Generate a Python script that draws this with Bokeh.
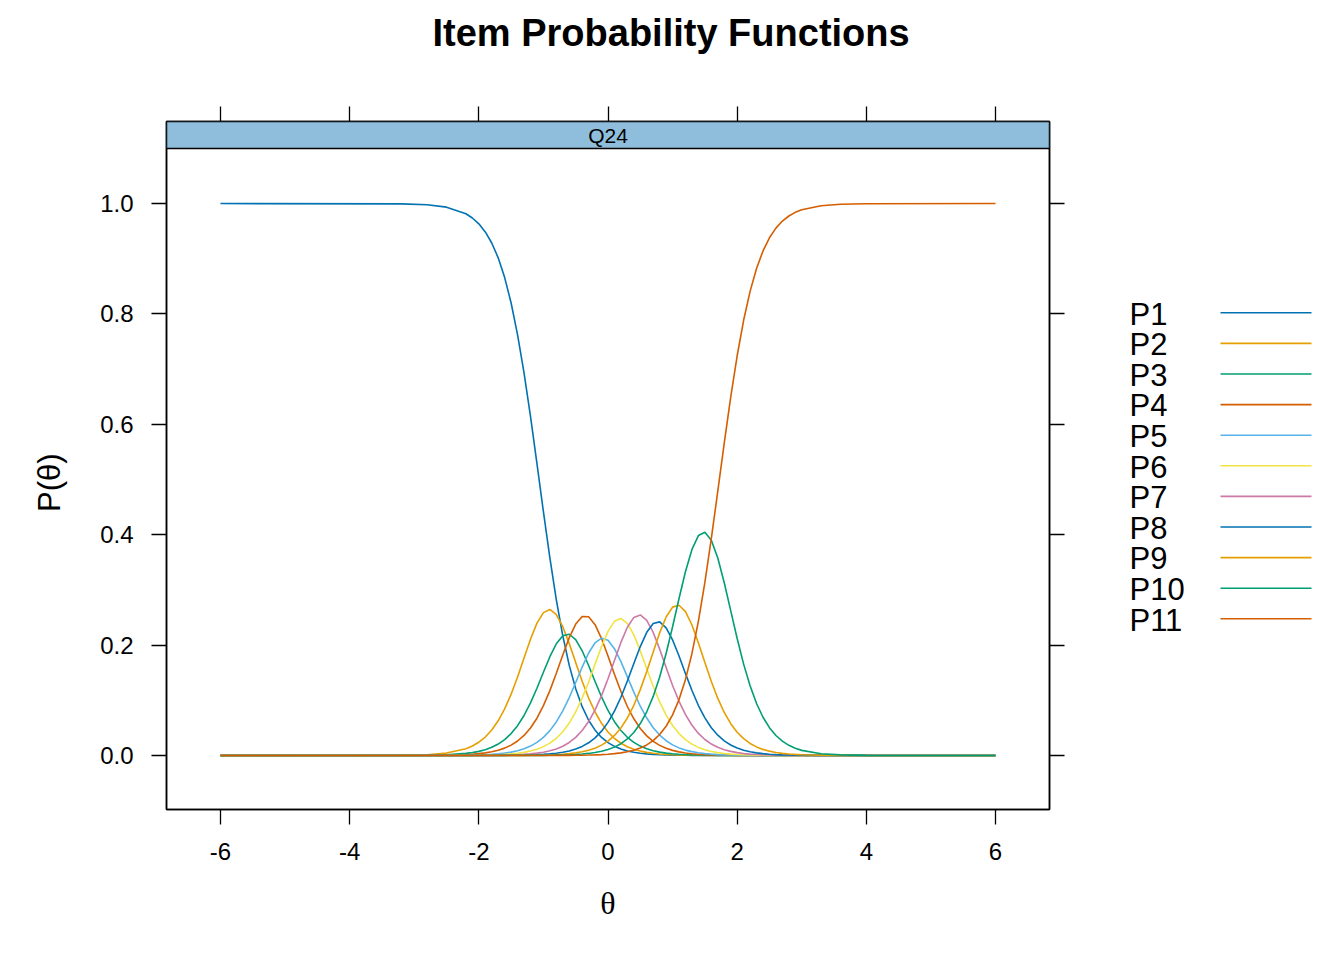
import math
from bokeh.plotting import figure
from bokeh.models import Range1d, LinearAxis, FixedTicker, BoxAnnotation, Label, Title
from bokeh.layouts import row
from bokeh.embed import file_html
from bokeh.resources import INLINE
from bokeh.core.properties import value

# ---------------- data ----------------
theta = [
    -6.0, -3.2, -2.8, -2.5,
    -2.2, -2.1, -2.0, -1.9, -1.8, -1.7, -1.6, -1.5, -1.4, -1.3,
    -1.2, -1.1, -1.0, -0.9, -0.8, -0.7, -0.6, -0.5, -0.4, -0.3,
    -0.2, -0.1, 0.0, 0.1, 0.2, 0.3, 0.4, 0.5, 0.6, 0.7,
    0.8, 0.9, 1.0, 1.1, 1.2, 1.3, 1.4, 1.5, 1.6, 1.7,
    1.8, 1.9, 2.0, 2.1, 2.2, 2.3, 2.4, 2.5, 2.6, 2.7,
    2.8, 2.9, 3.0,
    3.3, 3.6, 4.0, 6.0,
]

p1 = [
    1.0, 0.9994, 0.9977, 0.9934,
    0.9814, 0.9738, 0.9632, 0.9486, 0.9285, 0.9016, 0.8658, 0.8198, 0.7622, 0.6932,
    0.6143, 0.5288, 0.4417, 0.3579, 0.2821, 0.2169, 0.1633, 0.1209, 0.0884, 0.0639,
    0.0459, 0.0328, 0.0234, 0.0166, 0.0117, 0.0083, 0.0059, 0.0041, 0.0029, 0.0021,
    0.0015, 0.0010, 0.0007, 0.0005, 0.0004, 0.0003, 0.0002, 0.0001, 0.0001, 0.0001,
    0, 0, 0, 0, 0, 0, 0, 0, 0, 0,
    0, 0, 0,
    0, 0, 0, 0,
]
p2 = [
    0, 0.0004, 0.0015, 0.0044,
    0.0123, 0.0172, 0.0241, 0.0334, 0.0461, 0.0629, 0.0844, 0.1111, 0.1424, 0.1767,
    0.2106, 0.2398, 0.2589, 0.2646, 0.2554, 0.2334, 0.2027, 0.1683, 0.1345, 0.1041,
    0.0788, 0.0584, 0.0427, 0.0309, 0.0222, 0.0159, 0.0113, 0.0080, 0.0057, 0.0040,
    0.0028, 0.0020, 0.0014, 0.0010, 0.0007, 0.0005, 0.0004, 0.0002, 0.0002, 0.0001,
    0.0001, 0.0001, 0, 0, 0, 0, 0, 0, 0, 0,
    0, 0, 0,
    0, 0, 0, 0,
]
p3 = [
    0, 0.0001, 0.0005, 0.0013,
    0.0038, 0.0053, 0.0075, 0.0106, 0.0149, 0.0207, 0.0288, 0.0397, 0.0541, 0.0725,
    0.0954, 0.1219, 0.1508, 0.1790, 0.2025, 0.2171, 0.2197, 0.2100, 0.1897, 0.1630,
    0.1340, 0.1061, 0.0816, 0.0613, 0.0453, 0.0330, 0.0239, 0.0171, 0.0122, 0.0087,
    0.0061, 0.0043, 0.0031, 0.0022, 0.0015, 0.0011, 0.0008, 0.0005, 0.0004, 0.0003,
    0.0002, 0.0001, 0.0001, 0.0001, 0.0001, 0, 0, 0, 0, 0,
    0, 0, 0,
    0, 0, 0, 0,
]
p4 = [
    0, 0.0001, 0.0002, 0.0006,
    0.0017, 0.0024, 0.0034, 0.0048, 0.0067, 0.0095, 0.0134, 0.0188, 0.0263, 0.0363,
    0.0499, 0.0676, 0.0903, 0.1176, 0.1491, 0.1822, 0.2136, 0.2382, 0.2517, 0.2513,
    0.2370, 0.2119, 0.1803, 0.1472, 0.1159, 0.0888, 0.0665, 0.0490, 0.0356, 0.0257,
    0.0184, 0.0131, 0.0093, 0.0066, 0.0047, 0.0033, 0.0023, 0.0017, 0.0012, 0.0008,
    0.0006, 0.0004, 0.0003, 0.0002, 0.0001, 0.0001, 0.0001, 0, 0, 0,
    0, 0, 0,
    0, 0, 0, 0,
]
p5 = [
    0, 0, 0.0001, 0.0002,
    0.0005, 0.0008, 0.0011, 0.0015, 0.0022, 0.0031, 0.0043, 0.0061, 0.0086, 0.0122,
    0.0171, 0.0238, 0.0329, 0.0451, 0.0609, 0.0810, 0.1050, 0.1322, 0.1601, 0.1857,
    0.2042, 0.2126, 0.2087, 0.1935, 0.1701, 0.1425, 0.1149, 0.0893, 0.0679, 0.0504,
    0.0370, 0.0268, 0.0193, 0.0138, 0.0098, 0.0070, 0.0049, 0.0035, 0.0025, 0.0017,
    0.0012, 0.0009, 0.0006, 0.0004, 0.0003, 0.0002, 0.0002, 0.0001, 0.0001, 0,
    0, 0, 0,
    0, 0, 0, 0,
]
p6 = [
    0, 0, 0, 0.0001,
    0.0003, 0.0004, 0.0005, 0.0007, 0.0010, 0.0014, 0.0020, 0.0029, 0.0041, 0.0057,
    0.0081, 0.0114, 0.0161, 0.0225, 0.0313, 0.0430, 0.0588, 0.0789, 0.1040, 0.1333,
    0.1656, 0.1976, 0.2249, 0.2431, 0.2482, 0.2395, 0.2185, 0.1896, 0.1571, 0.1254,
    0.0970, 0.0732, 0.0543, 0.0397, 0.0287, 0.0206, 0.0147, 0.0105, 0.0074, 0.0053,
    0.0037, 0.0026, 0.0019, 0.0013, 0.0009, 0.0007, 0.0005, 0.0003, 0.0002, 0.0002,
    0.0001, 0.0001, 0.0001,
    0, 0, 0, 0,
]
p7 = [
    0, 0, 0, 0,
    0.0001, 0.0001, 0.0002, 0.0003, 0.0004, 0.0005, 0.0008, 0.0011, 0.0015, 0.0021,
    0.0030, 0.0043, 0.0060, 0.0085, 0.0120, 0.0169, 0.0236, 0.0328, 0.0452, 0.0615,
    0.0827, 0.1085, 0.1391, 0.1721, 0.2049, 0.2323, 0.2502, 0.2546, 0.2448, 0.2229,
    0.1927, 0.1595, 0.1269, 0.0982, 0.0740, 0.0549, 0.0400, 0.0290, 0.0208, 0.0149,
    0.0106, 0.0075, 0.0053, 0.0037, 0.0026, 0.0019, 0.0013, 0.0009, 0.0007, 0.0005,
    0.0003, 0.0002, 0.0002,
    0.0001, 0, 0, 0,
]
p8 = [
    0, 0, 0, 0,
    0, 0.0001, 0.0001, 0.0001, 0.0001, 0.0002, 0.0003, 0.0004, 0.0005, 0.0007,
    0.0010, 0.0015, 0.0021, 0.0029, 0.0042, 0.0059, 0.0083, 0.0118, 0.0165, 0.0231,
    0.0320, 0.0441, 0.0600, 0.0804, 0.1055, 0.1349, 0.1666, 0.1974, 0.2232, 0.2390,
    0.2421, 0.2314, 0.2094, 0.1802, 0.1483, 0.1177, 0.0906, 0.0682, 0.0504, 0.0368,
    0.0266, 0.0191, 0.0136, 0.0097, 0.0069, 0.0048, 0.0034, 0.0024, 0.0017, 0.0012,
    0.0009, 0.0006, 0.0004,
    0.0002, 0.0001, 0, 0,
]
p9 = [
    0, 0, 0, 0,
    0, 0, 0, 0, 0.0001, 0.0001, 0.0001, 0.0002, 0.0002, 0.0003,
    0.0004, 0.0006, 0.0008, 0.0012, 0.0017, 0.0024, 0.0034, 0.0048, 0.0067, 0.0095,
    0.0133, 0.0188, 0.0262, 0.0364, 0.0500, 0.0680, 0.0910, 0.1194, 0.1522, 0.1877,
    0.2222, 0.2509, 0.2688, 0.2722, 0.2608, 0.2364, 0.2040, 0.1684, 0.1340, 0.1034,
    0.0780, 0.0577, 0.0421, 0.0305, 0.0219, 0.0156, 0.0111, 0.0079, 0.0056, 0.0039,
    0.0028, 0.0020, 0.0014,
    0.0005, 0.0002, 0, 0,
]
p10 = [
    0, 0, 0, 0,
    0, 0, 0, 0, 0, 0, 0, 0.0001, 0.0001, 0.0001,
    0.0002, 0.0002, 0.0003, 0.0005, 0.0007, 0.0009, 0.0013, 0.0019, 0.0027, 0.0038,
    0.0054, 0.0076, 0.0108, 0.0152, 0.0214, 0.0300, 0.0418, 0.0579, 0.0792, 0.1071,
    0.1422, 0.1848, 0.2332, 0.2845, 0.3333, 0.3734, 0.3985, 0.4044, 0.3899, 0.3577,
    0.3130, 0.2624, 0.2119, 0.1656, 0.1263, 0.0942, 0.0693, 0.0504, 0.0363, 0.0260,
    0.0185, 0.0131, 0.0093,
    0.0033, 0.0012, 0.0003, 0,
]
p11 = [
    0, 0, 0, 0,
    0, 0, 0, 0, 0, 0, 0, 0, 0, 0,
    0, 0.0001, 0.0001, 0.0001, 0.0002, 0.0002, 0.0003, 0.0004, 0.0006, 0.0008,
    0.0012, 0.0017, 0.0024, 0.0034, 0.0048, 0.0068, 0.0096, 0.0136, 0.0192, 0.0270,
    0.0380, 0.0530, 0.0736, 0.1013, 0.1379, 0.1849, 0.2435, 0.3135, 0.3932, 0.4790,
    0.5661, 0.6493, 0.7242, 0.7885, 0.8409, 0.8824, 0.9141, 0.9379, 0.9554, 0.9682,
    0.9774, 0.9840, 0.9886,
    0.9960, 0.9986, 0.9997, 1.0,
]

series_names = ["P1", "P2", "P3", "P4", "P5", "P6", "P7", "P8", "P9", "P10", "P11"]
series_values = [p1, p2, p3, p4, p5, p6, p7, p8, p9, p10, p11]
series_colors = ["#0072B2", "#E69F00", "#009E73", "#D55E00", "#56B4E9", "#F0E442",
                 "#CC79A7", "#0072B2", "#E69F00", "#009E73", "#D55E00"]

x_ticks = [-6, -4, -2, 0, 2, 4, 6]
x_tick_labels = ["-6", "-4", "-2", "0", "2", "4", "6"]
y_ticks = [0.0, 0.2, 0.4, 0.6, 0.8, 1.0]
y_tick_labels = ["0.0", "0.2", "0.4", "0.6", "0.8", "1.0"]

title_text = "Item Probability Functions"
panel_label = "Q24"
x_label = "\u03b8"
y_label = "P(\u03b8)"

# ---------------- styling / layout ----------------
FONT = "Liberation Sans"
SERIF = "Liberation Serif"
STRIP_COLOR = "#8FBEDC"
LINE_W = 1.6

FRAME_L, FRAME_T, FRAME_W, FRAME_H = 166, 121, 883, 688
MAIN_W = 1100
BOTTOM_B = 139
LEG_W = 236

X_RANGE = (-6.836, 6.836)
Y_RANGE = (-0.0978, 1.1486)
STRIP_BOTTOM = 1.0996

p = figure(
    frame_width=FRAME_W, frame_height=FRAME_H,
    min_border_left=FRAME_L, min_border_right=MAIN_W - FRAME_L - FRAME_W,
    min_border_top=FRAME_T, min_border_bottom=BOTTOM_B,
    x_range=Range1d(*X_RANGE), y_range=Range1d(*Y_RANGE),
    x_axis_location=None, y_axis_location=None,
    output_backend="svg", toolbar_location=None,
)
p.grid.visible = False
p.outline_line_color = "black"
p.outline_line_width = 1.5
p.background_fill_color = "white"
p.border_fill_color = "white"


def make_axis(ticks, labels, show):
    ax = LinearAxis(ticker=FixedTicker(ticks=ticks))
    if show:
        ax.major_label_overrides = {t: l for t, l in zip(ticks, labels)}
    else:
        ax.major_label_overrides = {t: "" for t in ticks}
    ax.major_tick_out = 15
    ax.major_tick_in = 0
    ax.minor_tick_line_color = None
    ax.axis_line_color = "black"
    ax.axis_line_width = 1.5
    ax.major_tick_line_color = "black"
    ax.major_tick_line_width = 1.3
    ax.major_label_text_font = FONT
    ax.major_label_text_font_size = "24px"
    ax.major_label_text_color = "black"
    return ax


bottom_ax = make_axis(x_ticks, x_tick_labels, True)
bottom_ax.major_label_standoff = 18
bottom_ax.axis_label = x_label
bottom_ax.axis_label_text_font = SERIF
bottom_ax.axis_label_text_font_size = "32px"
bottom_ax.axis_label_text_font_style = "normal"
bottom_ax.axis_label_text_color = "black"
bottom_ax.axis_label_standoff = 22
p.add_layout(bottom_ax, "below")

top_ax = make_axis(x_ticks, x_tick_labels, False)
top_ax.major_label_standoff = 0
p.add_layout(top_ax, "above")

# empty spacer between the top axis and the title, then the title itself
spacer = Title(text="\u00a0", text_font=FONT, text_font_size="10px", standoff=40,
               text_color="white")
p.add_layout(spacer, "above")
main_title = Title(text=title_text, align="left", offset=266, standoff=0,
                   text_font=FONT, text_font_size="38px", text_font_style="bold",
                   text_color="black")
p.add_layout(main_title, "above")

left_ax = make_axis(y_ticks, y_tick_labels, True)
left_ax.major_label_standoff = 18
# trailing no-break spaces centre the label on the panel below the strip
left_ax.axis_label = y_label + "\u00a0" * 4
left_ax.axis_label_text_font = FONT
left_ax.axis_label_text_font_size = "31px"
left_ax.axis_label_text_font_style = "normal"
left_ax.axis_label_text_color = "black"
left_ax.axis_label_standoff = 30
p.add_layout(left_ax, "left")

right_ax = make_axis(y_ticks, y_tick_labels, False)
right_ax.major_label_standoff = 0
p.add_layout(right_ax, "right")

for vals, color in zip(series_values, series_colors):
    p.line(theta, vals, line_color=color, line_width=LINE_W)

strip = BoxAnnotation(bottom=STRIP_BOTTOM, fill_color=STRIP_COLOR, fill_alpha=1.0,
                      line_color="black", line_width=1.5, line_alpha=1.0)
p.add_layout(strip)

p.add_layout(Label(x=0.0, y=(STRIP_BOTTOM + Y_RANGE[1]) / 2, text=panel_label,
                   text_font=FONT, text_font_size="21px", text_color="black",
                   text_align="center", text_baseline="middle"))

# legend panel (label left, line sample right, as in the reference);
# its frame is aligned with the main frame, y range given in page pixels
leg = figure(frame_width=LEG_W, frame_height=FRAME_H,
             min_border_left=0, min_border_right=0,
             min_border_top=FRAME_T, min_border_bottom=BOTTOM_B,
             x_range=Range1d(MAIN_W, MAIN_W + LEG_W),
             y_range=Range1d(FRAME_T + FRAME_H, FRAME_T),
             x_axis_location=None, y_axis_location=None,
             output_backend="svg", toolbar_location=None)
leg.grid.visible = False
leg.outline_line_color = None
leg.background_fill_color = "white"
leg.border_fill_color = "white"

n = len(series_names)
step = 30.6
text_y = [313.5 + step * i for i in range(n)]
line_y = [312.3 + step * i for i in range(n)]
leg.text(x=[1129] * n, y=text_y, text=series_names,
         text_font=value(FONT), text_font_size=value("31px"), text_color="black",
         text_baseline="middle", text_align="left")
leg.segment(x0=[1220] * n, y0=line_y, x1=[1311] * n, y1=line_y,
            line_color=series_colors, line_width=LINE_W)

layout = row(p, leg)
open("out.html", "w").write(file_html(layout, INLINE))
